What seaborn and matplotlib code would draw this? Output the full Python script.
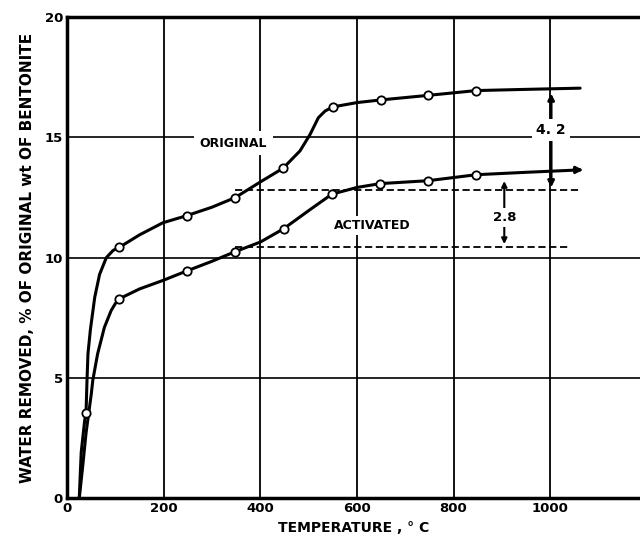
import matplotlib
matplotlib.use("Agg")
import matplotlib.pyplot as plt
import seaborn as sns
import pandas as pd

# ---- data ----
orig_curve_x = [25, 29, 36, 39, 41, 43, 48, 57, 67, 81, 95, 108, 150, 198, 248, 300, 348, 400, 447, 482, 503, 520, 534, 550, 600, 649, 747, 847, 950, 1062]
orig_curve_y = [0.0, 1.9, 3.2, 3.54, 4.9, 6.0, 7.0, 8.35, 9.3, 10.0, 10.3, 10.43, 10.95, 11.45, 11.75, 12.1, 12.5, 13.15, 13.72, 14.44, 15.13, 15.82, 16.1, 16.27, 16.45, 16.56, 16.75, 16.95, 17.0, 17.05]
orig_mark_x = [39, 108, 248, 348, 447, 550, 649, 747, 847]
orig_mark_y = [3.54, 10.43, 11.75, 12.5, 13.72, 16.27, 16.56, 16.75, 16.95]

act_curve_x = [25, 32, 39, 50, 53, 63, 77, 91, 100, 108, 150, 198, 248, 300, 348, 400, 448, 503, 548, 600, 648, 747, 847, 950, 1062]
act_curve_y = [0.0, 1.3, 2.7, 4.35, 4.9, 6.0, 7.1, 7.8, 8.1, 8.29, 8.7, 9.05, 9.45, 9.85, 10.25, 10.65, 11.2, 12.0, 12.64, 12.92, 13.08, 13.2, 13.45, 13.55, 13.65]
act_mark_x = [108, 248, 348, 448, 548, 648, 747, 847]
act_mark_y = [8.29, 9.45, 10.25, 11.2, 12.64, 13.08, 13.2, 13.45]

x_ticks = [0, 200, 400, 600, 800, 1000]
x_ticklabels = ["0", "200", "400", "600", "800", "1000"]
y_ticks = [0, 5, 10, 15, 20]
y_ticklabels = ["0", "5", "10", "15", "20"]

ref_upper = 12.8   # dashed reference levels
ref_lower = 10.45
diff_orig = "4. 2"
diff_act = "2.8"

sns.set_style("white")
plt.rcParams["font.family"] = ["DejaVu Sans"]
plt.rcParams["text.color"] = "black"
plt.rcParams["axes.labelcolor"] = "black"
plt.rcParams["xtick.color"] = "black"
plt.rcParams["ytick.color"] = "black"

fig = plt.figure(figsize=(6.4, 5.39), dpi=100)
ax = fig.add_axes([0.105, 0.076, 0.895, 0.892])

# grid
for gx in x_ticks[1:]:
    ax.axvline(gx, color="black", lw=1.3, zorder=1)
for gy in y_ticks[1:-1]:
    ax.axhline(gy, color="black", lw=1.2, zorder=1)

# dashed reference lines
ax.plot([348, 1062], [ref_upper, ref_upper], color="black", lw=1.3, ls=(0, (4, 2)), zorder=2)
ax.plot([348, 1040], [ref_lower, ref_lower], color="black", lw=1.3, ls=(0, (4, 2)), zorder=2)

df_o = pd.DataFrame({"x": orig_curve_x, "y": orig_curve_y})
df_a = pd.DataFrame({"x": act_curve_x, "y": act_curve_y})
sns.lineplot(data=df_o, x="x", y="y", sort=False, estimator=None, color="black", lw=2.2, ax=ax, zorder=3)
sns.lineplot(data=df_a, x="x", y="y", sort=False, estimator=None, color="black", lw=2.2, ax=ax, zorder=3)

# arrow head at end of activated curve
ax.annotate("", xy=(act_curve_x[-1] + 12, act_curve_y[-1]), xytext=(act_curve_x[-1] - 20, act_curve_y[-1]),
            arrowprops=dict(arrowstyle="-|>", color="black", lw=2, mutation_scale=10), zorder=4)

sns.scatterplot(x=orig_mark_x, y=orig_mark_y, marker="o", s=36, facecolor="white",
                edgecolor="black", linewidth=1.3, ax=ax, zorder=5)
sns.scatterplot(x=act_mark_x, y=act_mark_y, marker="o", s=36, facecolor="white",
                edgecolor="black", linewidth=1.3, ax=ax, zorder=5)

# difference arrows
ax.annotate("", xy=(1002, 16.95), xytext=(1002, ref_upper),
            arrowprops=dict(arrowstyle="<|-|>", color="black", lw=2, mutation_scale=9), zorder=4)
ax.text(1002, 15.3, diff_orig, ha="center", va="center", fontsize=10, fontweight="bold",
        bbox=dict(facecolor="white", edgecolor="none", pad=3), zorder=6)
ax.annotate("", xy=(905, 13.3), xytext=(905, ref_lower),
            arrowprops=dict(arrowstyle="<|-|>", color="black", lw=1.5, mutation_scale=8), zorder=4)
ax.text(905, 11.66, diff_act, ha="center", va="center", fontsize=9.5, fontweight="bold",
        bbox=dict(facecolor="white", edgecolor="none", pad=2), zorder=6)

# curve labels
ax.text(344, 14.75, "ORIGINAL", ha="center", va="center", fontsize=9, fontweight="bold",
        bbox=dict(facecolor="white", edgecolor="none", pad=4), zorder=6)
ax.text(632, 11.33, "ACTIVATED", ha="center", va="center", fontsize=9, fontweight="bold",
        bbox=dict(facecolor="white", edgecolor="none", pad=2), zorder=6)

ax.set_xlim(0, 1186)
ax.set_ylim(0, 20)
ax.set_xticks(x_ticks)
ax.set_xticklabels(x_ticklabels, fontsize=9.5, fontweight="bold")
ax.set_yticks(y_ticks)
ax.set_yticklabels(y_ticklabels, fontsize=9.5, fontweight="bold")
ax.tick_params(length=0, pad=3)
ax.set_xlabel("TEMPERATURE , \u00b0 C", fontsize=10, fontweight="bold", labelpad=4)
ax.set_ylabel("WATER REMOVED, % OF ORIGINAL wt OF BENTONITE", fontsize=11, fontweight="bold", labelpad=7)

for side in ["left", "bottom", "top"]:
    ax.spines[side].set_visible(True)
    ax.spines[side].set_color("black")
    ax.spines[side].set_linewidth(2.5)
ax.spines["right"].set_visible(False)

fig.savefig("out.png", dpi=100, facecolor="white")
